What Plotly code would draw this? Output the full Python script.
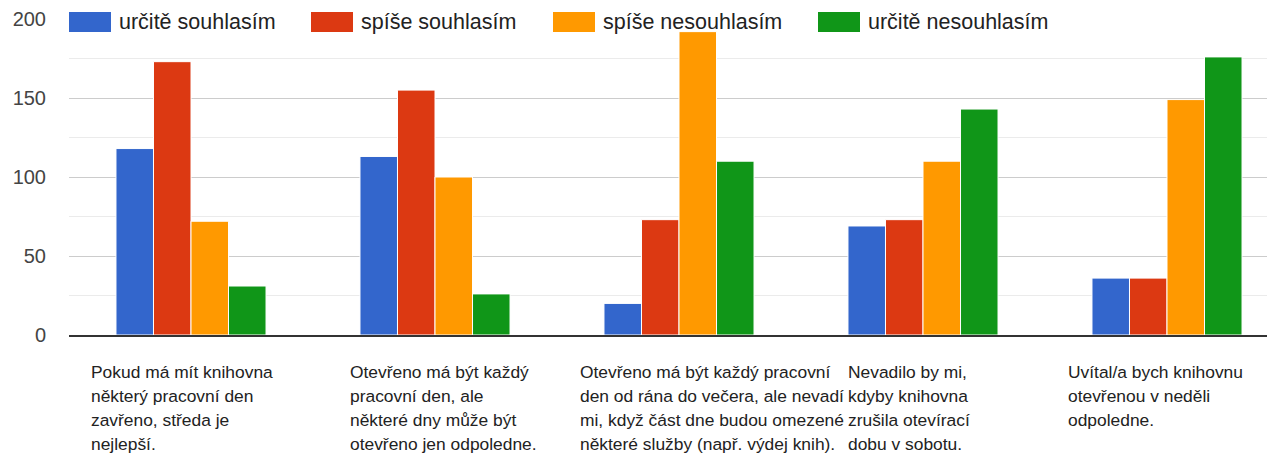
import plotly.graph_objects as go

# ---- data ----
categories = [
    "Pokud má mít knihovna některý pracovní den zavřeno, středa je nejlepší.",
    "Otevřeno má být každý pracovní den, ale některé dny může být otevřeno jen odpoledne.",
    "Otevřeno má být každý pracovní den od rána do večera, ale nevadí mi, když část dne budou omezené některé služby (např. výdej knih).",
    "Nevadilo by mi, kdyby knihovna zrušila otevírací dobu v sobotu.",
    "Uvítal/a bych knihovnu otevřenou v neděli odpoledne.",
]
category_lines = [
    ["Pokud má mít knihovna", "některý pracovní den", "zavřeno, středa je", "nejlepší."],
    ["Otevřeno má být každý", "pracovní den, ale", "některé dny může být", "otevřeno jen odpoledne."],
    ["Otevřeno má být každý pracovní", "den od rána do večera, ale nevadí", "mi, když část dne budou omezené", "některé služby (např. výdej knih)."],
    ["Nevadilo by mi,", "kdyby knihovna", "zrušila otevírací", "dobu v sobotu."],
    ["Uvítal/a bych knihovnu", "otevřenou v neděli", "odpoledne."],
]
series_names = ["určitě souhlasím", "spíše souhlasím", "spíše nesouhlasím", "určitě nesouhlasím"]
urcite_souhlasim = [118, 113, 20, 69, 36]
spise_souhlasim = [173, 155, 73, 73, 36]
spise_nesouhlasim = [72, 100, 192, 110, 149]
urcite_nesouhlasim = [31, 26, 110, 143, 176]
y_ticks = [0, 50, 100, 150, 200]

# ---- style ----
colors = ["#3366cc", "#dc3912", "#ff9900", "#109618"]
series_values = [urcite_souhlasim, spise_souhlasim, spise_nesouhlasim, urcite_nesouhlasim]
BODY = 8                      # default page body margin
W, H = 1275 - BODY, 457 - BODY
# plot area in page pixels: left 69, top 19, bottom 335, right 1275
ML, MR, MT, MB = 69 - BODY, 0, 19 - BODY, 457 - 335
PW, PH = W - ML - MR, H - MT - MB
FONT = "Liberation Sans, Arial, sans-serif"

x_idx = list(range(len(categories)))

fig = go.Figure()
for name, vals, col in zip(series_names, series_values, colors):
    fig.add_trace(go.Bar(
        x=x_idx, y=vals, name=name,
        marker=dict(color=col, line=dict(color="white", width=1)),
        showlegend=False,
    ))

def px_to_paper_x(px):
    return (px - BODY - ML) / PW

def px_to_paper_y(py):
    return (H - MB - (py - BODY)) / PH

annotations = []
shapes = []

# category labels (left-aligned text blocks below the axis), one line each
label_left_px = [90, 349, 579, 847, 1067]
first_line_px, line_pitch = 372, 24
for lines, lx in zip(category_lines, label_left_px):
    for k, line in enumerate(lines):
        annotations.append(dict(
            x=px_to_paper_x(lx), y=px_to_paper_y(first_line_px + k * line_pitch),
            xref="paper", yref="paper",
            xanchor="left", yanchor="middle", align="left", showarrow=False,
            text=line, borderpad=0,
            font=dict(family=FONT, size=17.4, color="#222222"),
        ))

# legend drawn at top over the 200 gridline
legend_rect_px = [69, 311, 553, 818]
rect_w, rect_top, rect_bot = 42, 12, 32
for name, col, rx in zip(series_names, colors, legend_rect_px):
    shapes.append(dict(
        type="rect", xref="paper", yref="paper",
        x0=px_to_paper_x(rx), x1=px_to_paper_x(rx + rect_w),
        y0=px_to_paper_y(rect_bot), y1=px_to_paper_y(rect_top),
        fillcolor=col, line=dict(width=0), layer="above",
    ))
    annotations.append(dict(
        x=px_to_paper_x(rx + rect_w + 7), y=px_to_paper_y((rect_top + rect_bot) / 2),
        xref="paper", yref="paper", xanchor="left", yanchor="middle",
        showarrow=False, text=name, borderpad=0,
        font=dict(family=FONT, size=21.5, color="#222222"),
    ))

fig.update_layout(
    width=W, height=H,
    margin=dict(l=ML, r=MR, t=MT, b=MB, pad=0),
    paper_bgcolor="white", plot_bgcolor="white",
    barmode="group", bargap=0.385, bargroupgap=0,
    font=dict(family=FONT, color="#444444"),
    annotations=annotations, shapes=shapes,
    showlegend=False,
)
fig.update_xaxes(
    range=[-0.5, -0.5 + PW / 244.0], showticklabels=False, showgrid=False,
    showline=True, linecolor="#333333", linewidth=2, ticks="", zeroline=False,
)
fig.update_yaxes(
    range=[0, 200], tickvals=y_ticks, ticktext=[str(v) for v in y_ticks],
    showgrid=True, gridcolor="#cccccc", gridwidth=1,
    minor=dict(dtick=25, showgrid=True, gridcolor="#ebebeb", gridwidth=1),
    zeroline=False, showline=False, ticks="",
    tickfont=dict(family=FONT, size=20, color="#444444"),
    ticklabelstandoff=22,
)

fig.write_html("out.html")
